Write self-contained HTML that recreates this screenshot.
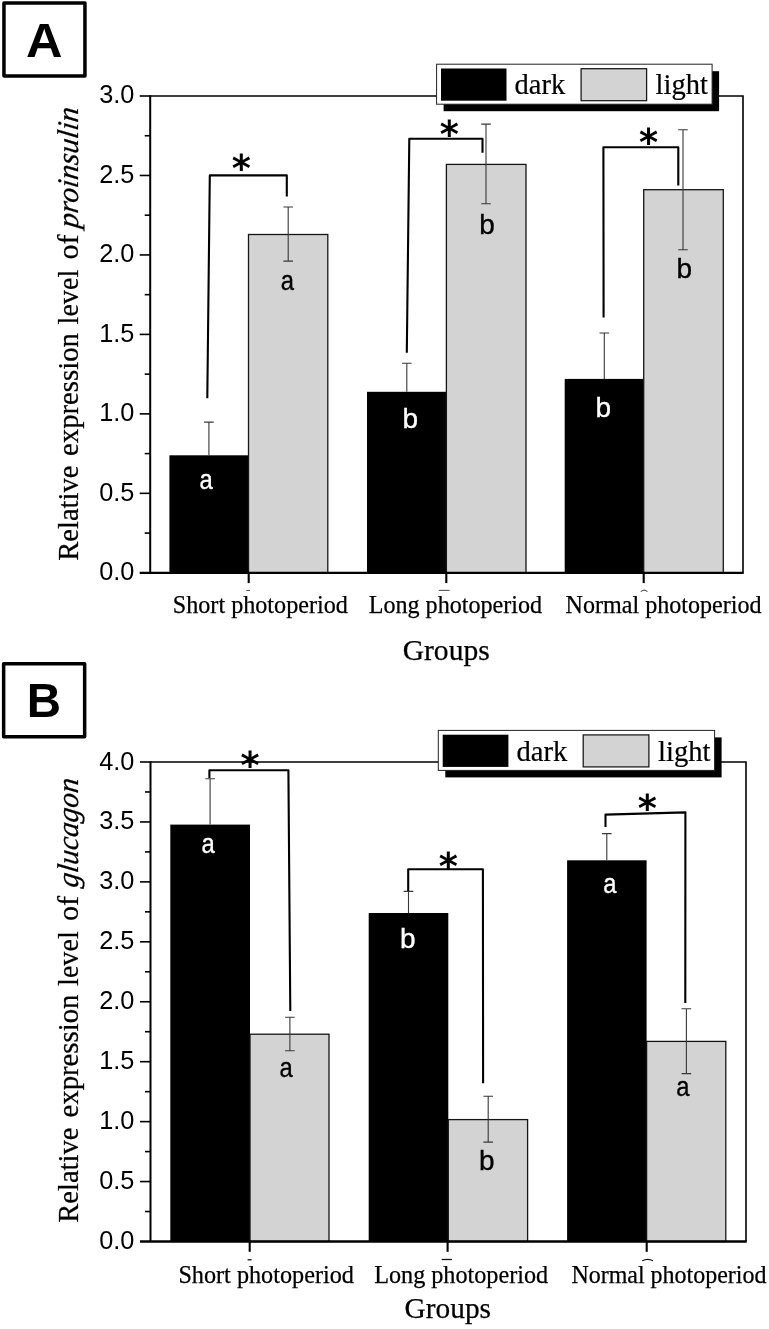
<!DOCTYPE html>
<html lang="en"><head><meta charset="utf-8"><title>Relative expression levels of proinsulin and glucagon</title>
<style>html,body{margin:0;padding:0;background:#fff}svg{display:block}</style></head><body>
<svg width="769" height="1329" viewBox="0 0 769 1329">
<rect width="769" height="1329" fill="#fff"/>
<g id="panelA">
<path d="M150.2 96.0H743.0V572.8" fill="none" stroke="#000" stroke-width="1.6"/>
<rect x="169.4" y="455.3" width="79.1" height="117.5" fill="#000"/>
<rect x="248.5" y="234.5" width="79.3" height="338.3" fill="#d3d3d3" stroke="#151515" stroke-width="1.3"/>
<rect x="367.0" y="391.8" width="79.4" height="181.0" fill="#000"/>
<rect x="446.4" y="164.4" width="79.6" height="408.4" fill="#d3d3d3" stroke="#151515" stroke-width="1.3"/>
<rect x="564.7" y="378.9" width="79.0" height="193.9" fill="#000"/>
<rect x="643.7" y="189.7" width="79.6" height="383.1" fill="#d3d3d3" stroke="#151515" stroke-width="1.3"/>
<path d="M150.2 95.3V572.8" fill="none" stroke="#000" stroke-width="2"/>
<path d="M139.7 572.8H743.7" fill="none" stroke="#000" stroke-width="2.3"/>
<path d="M144.7 533.07H150.2" stroke="#000" stroke-width="1.6"/>
<text x="134.3" y="580.00" text-anchor="end" font-family='"Liberation Sans", sans-serif' font-size="25.3">0.0</text>
<path d="M144.7 453.60H150.2" stroke="#000" stroke-width="1.6"/>
<path d="M139.7 493.33H150.2" stroke="#000" stroke-width="1.6"/>
<text x="134.3" y="500.53" text-anchor="end" font-family='"Liberation Sans", sans-serif' font-size="25.3">0.5</text>
<path d="M144.7 374.13H150.2" stroke="#000" stroke-width="1.6"/>
<path d="M139.7 413.87H150.2" stroke="#000" stroke-width="1.6"/>
<text x="134.3" y="421.07" text-anchor="end" font-family='"Liberation Sans", sans-serif' font-size="25.3">1.0</text>
<path d="M144.7 294.67H150.2" stroke="#000" stroke-width="1.6"/>
<path d="M139.7 334.40H150.2" stroke="#000" stroke-width="1.6"/>
<text x="134.3" y="341.60" text-anchor="end" font-family='"Liberation Sans", sans-serif' font-size="25.3">1.5</text>
<path d="M144.7 215.20H150.2" stroke="#000" stroke-width="1.6"/>
<path d="M139.7 254.93H150.2" stroke="#000" stroke-width="1.6"/>
<text x="134.3" y="262.13" text-anchor="end" font-family='"Liberation Sans", sans-serif' font-size="25.3">2.0</text>
<path d="M144.7 135.73H150.2" stroke="#000" stroke-width="1.6"/>
<path d="M139.7 175.47H150.2" stroke="#000" stroke-width="1.6"/>
<text x="134.3" y="182.67" text-anchor="end" font-family='"Liberation Sans", sans-serif' font-size="25.3">2.5</text>
<path d="M139.7 96.00H150.2" stroke="#000" stroke-width="1.6"/>
<text x="134.3" y="103.20" text-anchor="end" font-family='"Liberation Sans", sans-serif' font-size="25.3">3.0</text>
<path d="M248.7 572.8V583.0999999999999" stroke="#000" stroke-width="2.1"/>
<path d="M246.3 590.5H250.0" stroke="#555" stroke-width="1.1"/>
<path d="M446.3 572.8V583.0999999999999" stroke="#000" stroke-width="2.1"/>
<path d="M438.8 590.4H449.6" stroke="#555" stroke-width="1.1"/>
<path d="M643.7 572.8V583.0999999999999" stroke="#000" stroke-width="2.1"/>
<path d="M640.8 591.6Q644.15 588.6 647.5 591.6" fill="none" stroke="#555" stroke-width="1.1"/>
<path d="M208.9 422.1V455.3M204.1 422.1H213.70000000000002" fill="none" stroke="#383838" stroke-width="1.1"/>
<path d="M288.2 207.0V261.1M283.4 207.0H293.0M283.4 261.1H293.0" fill="none" stroke="#383838" stroke-width="1.1"/>
<path d="M406.8 363.3V391.8M402.0 363.3H411.6" fill="none" stroke="#383838" stroke-width="1.1"/>
<path d="M486.0 124.1V203.7M481.2 124.1H490.8M481.2 203.7H490.8" fill="none" stroke="#383838" stroke-width="1.1"/>
<path d="M604.3 333.0V378.9M599.5 333.0H609.0999999999999" fill="none" stroke="#383838" stroke-width="1.1"/>
<path d="M683.0 129.7V249.8M678.2 129.7H687.8M678.2 249.8H687.8" fill="none" stroke="#383838" stroke-width="1.1"/>
<path d="M207.3 398.3L209.8 175.4H286.8V196.6" fill="none" stroke="#000" stroke-width="2.1" stroke-linejoin="round"/>
<path d="M406.8 352.8L409.3 138.7H482.5V152.7" fill="none" stroke="#000" stroke-width="2.1" stroke-linejoin="round"/>
<path d="M603.6 317.6L603.4 147.3H678.3V185.4" fill="none" stroke="#000" stroke-width="2.1" stroke-linejoin="round"/>
<text x="241.4" y="180.9" text-anchor="middle" font-family='"DejaVu Sans", "Liberation Sans", sans-serif' font-weight="bold" font-size="36.5">*</text>
<text x="449.35" y="146.5" text-anchor="middle" font-family='"DejaVu Sans", "Liberation Sans", sans-serif' font-weight="bold" font-size="36.5">*</text>
<text x="648.5" y="155.4" text-anchor="middle" font-family='"DejaVu Sans", "Liberation Sans", sans-serif' font-weight="bold" font-size="36.5">*</text>
<text transform="translate(206.20 488.5) scale(0.85 1)" text-anchor="middle" font-family='"Liberation Sans", sans-serif' font-size="28" fill="#fff" stroke="#fff" stroke-width="0.35">a</text>
<text transform="translate(287.40 290.1) scale(0.85 1)" text-anchor="middle" font-family='"Liberation Sans", sans-serif' font-size="28" fill="#000" stroke="#000" stroke-width="0.35">a</text>
<text transform="translate(410.35 428.1) scale(1.0 1)" text-anchor="middle" font-family='"Liberation Sans", sans-serif' font-size="28" fill="#fff" stroke="#fff" stroke-width="0.35">b</text>
<text transform="translate(487.15 234.4) scale(1.0 1)" text-anchor="middle" font-family='"Liberation Sans", sans-serif' font-size="28" fill="#000" stroke="#000" stroke-width="0.35">b</text>
<text transform="translate(603.25 416.7) scale(1.0 1)" text-anchor="middle" font-family='"Liberation Sans", sans-serif' font-size="28" fill="#fff" stroke="#fff" stroke-width="0.35">b</text>
<text transform="translate(684.35 277.6) scale(1.0 1)" text-anchor="middle" font-family='"Liberation Sans", sans-serif' font-size="28" fill="#000" stroke="#000" stroke-width="0.35">b</text>
<text x="172.8" y="612.6" font-family='"Liberation Serif", serif' font-size="24.6" stroke="#000" stroke-width="0.25" textLength="175.0" lengthAdjust="spacingAndGlyphs">Short photoperiod</text>
<text x="368.7" y="612.6" font-family='"Liberation Serif", serif' font-size="24.6" stroke="#000" stroke-width="0.25" textLength="173.4" lengthAdjust="spacingAndGlyphs">Long photoperiod</text>
<text x="565.6" y="612.6" font-family='"Liberation Serif", serif' font-size="24.6" stroke="#000" stroke-width="0.25" textLength="196.0" lengthAdjust="spacingAndGlyphs">Normal photoperiod</text>
<text x="402.7" y="659.5" font-family='"Liberation Serif", serif' font-size="30.4" stroke="#000" stroke-width="0.25" textLength="87.0" lengthAdjust="spacingAndGlyphs">Groups</text>
<g transform="translate(78.2 560.8) rotate(-90)" font-family='"Liberation Serif", serif' font-size="30" stroke="#000" stroke-width="0.25">
<text x="0.0" y="0" textLength="95.3" lengthAdjust="spacingAndGlyphs">Relative</text>
<text x="104.8" y="0" textLength="123.0" lengthAdjust="spacingAndGlyphs">expression</text>
<text x="236.4" y="0" textLength="54.6" lengthAdjust="spacingAndGlyphs">level</text>
<text x="301.2" y="0" textLength="25.1" lengthAdjust="spacingAndGlyphs">of</text>
<text transform="translate(332.1 0) skewX(-7)" font-style="italic" textLength="120.5" lengthAdjust="spacingAndGlyphs">proinsulin</text>
</g>
<rect x="443.6" y="71.2" width="275.5" height="40" fill="#000"/>
<rect x="436.6" y="64.2" width="275.5" height="40" fill="#fff" stroke="#222" stroke-width="1"/>
<rect x="441.0" y="68.5" width="65.5" height="32.2" fill="#000"/>
<rect x="581.1" y="68.7" width="65.5" height="32" fill="#d3d3d3" stroke="#151515" stroke-width="1.25"/>
<text x="514.6" y="94.4" font-family='"Liberation Serif", serif' font-size="28.5" stroke="#000" stroke-width="0.2">dark</text>
<text x="655.6" y="94.4" font-family='"Liberation Serif", serif' font-size="28.5" stroke="#000" stroke-width="0.2">light</text>
<rect x="3.95" y="3.05" width="81.0" height="73.0" fill="#fff" stroke="#000" stroke-width="3.5" stroke-linejoin="round"/>
<text transform="translate(25.9 56.8) scale(1.03 1)" font-family='"Liberation Sans", sans-serif' font-weight="bold" font-size="49">A</text>
</g>
<g id="panelB">
<path d="M150.5 762.0H746.0V1241.5" fill="none" stroke="#000" stroke-width="1.6"/>
<rect x="170.3" y="824.6" width="79.7" height="416.9" fill="#000"/>
<rect x="250.0" y="1034.2" width="79.0" height="207.3" fill="#d3d3d3" stroke="#151515" stroke-width="1.3"/>
<rect x="368.7" y="913.0" width="79.6" height="328.5" fill="#000"/>
<rect x="448.3" y="1119.6" width="79.3" height="121.9" fill="#d3d3d3" stroke="#151515" stroke-width="1.3"/>
<rect x="567.1" y="860.3" width="79.5" height="381.2" fill="#000"/>
<rect x="646.6" y="1041.4" width="79.2" height="200.1" fill="#d3d3d3" stroke="#151515" stroke-width="1.3"/>
<path d="M150.5 761.3V1241.5" fill="none" stroke="#000" stroke-width="2"/>
<path d="M140.0 1241.5H746.7" fill="none" stroke="#000" stroke-width="2.3"/>
<path d="M145.0 1211.53H150.5" stroke="#000" stroke-width="1.6"/>
<text x="134.3" y="1249.00" text-anchor="end" font-family='"Liberation Sans", sans-serif' font-size="25.3">0.0</text>
<path d="M145.0 1151.59H150.5" stroke="#000" stroke-width="1.6"/>
<path d="M140.0 1181.56H150.5" stroke="#000" stroke-width="1.6"/>
<text x="134.3" y="1189.06" text-anchor="end" font-family='"Liberation Sans", sans-serif' font-size="25.3">0.5</text>
<path d="M145.0 1091.66H150.5" stroke="#000" stroke-width="1.6"/>
<path d="M140.0 1121.62H150.5" stroke="#000" stroke-width="1.6"/>
<text x="134.3" y="1129.12" text-anchor="end" font-family='"Liberation Sans", sans-serif' font-size="25.3">1.0</text>
<path d="M145.0 1031.72H150.5" stroke="#000" stroke-width="1.6"/>
<path d="M140.0 1061.69H150.5" stroke="#000" stroke-width="1.6"/>
<text x="134.3" y="1069.19" text-anchor="end" font-family='"Liberation Sans", sans-serif' font-size="25.3">1.5</text>
<path d="M145.0 971.78H150.5" stroke="#000" stroke-width="1.6"/>
<path d="M140.0 1001.75H150.5" stroke="#000" stroke-width="1.6"/>
<text x="134.3" y="1009.25" text-anchor="end" font-family='"Liberation Sans", sans-serif' font-size="25.3">2.0</text>
<path d="M145.0 911.84H150.5" stroke="#000" stroke-width="1.6"/>
<path d="M140.0 941.81H150.5" stroke="#000" stroke-width="1.6"/>
<text x="134.3" y="949.31" text-anchor="end" font-family='"Liberation Sans", sans-serif' font-size="25.3">2.5</text>
<path d="M145.0 851.91H150.5" stroke="#000" stroke-width="1.6"/>
<path d="M140.0 881.88H150.5" stroke="#000" stroke-width="1.6"/>
<text x="134.3" y="889.38" text-anchor="end" font-family='"Liberation Sans", sans-serif' font-size="25.3">3.0</text>
<path d="M145.0 791.97H150.5" stroke="#000" stroke-width="1.6"/>
<path d="M140.0 821.94H150.5" stroke="#000" stroke-width="1.6"/>
<text x="134.3" y="829.44" text-anchor="end" font-family='"Liberation Sans", sans-serif' font-size="25.3">3.5</text>
<path d="M140.0 762.00H150.5" stroke="#000" stroke-width="1.6"/>
<text x="134.3" y="769.50" text-anchor="end" font-family='"Liberation Sans", sans-serif' font-size="25.3">4.0</text>
<path d="M249.7 1241.5V1251.8" stroke="#000" stroke-width="2.1"/>
<path d="M247.6 1259.8H251.6" stroke="#111" stroke-width="1.3"/>
<path d="M447.6 1241.5V1251.8" stroke="#000" stroke-width="2.1"/>
<path d="M441.7 1259.5H451.9" stroke="#111" stroke-width="1.3"/>
<path d="M646.7 1241.5V1251.8" stroke="#000" stroke-width="2.1"/>
<path d="M642.3 1260.8Q647.65 1257.8 653.0 1260.8" fill="none" stroke="#111" stroke-width="1.3"/>
<path d="M210.1 778.7V824.6M205.29999999999998 778.7H214.9" fill="none" stroke="#383838" stroke-width="1.1"/>
<path d="M289.9 1017.2V1050.7M285.09999999999997 1017.2H294.7M285.09999999999997 1050.7H294.7" fill="none" stroke="#383838" stroke-width="1.1"/>
<path d="M408.5 891.4V913.0M403.7 891.4H413.3" fill="none" stroke="#383838" stroke-width="1.1"/>
<path d="M488.2 1096.2V1142.1M483.4 1096.2H493.0M483.4 1142.1H493.0" fill="none" stroke="#383838" stroke-width="1.1"/>
<path d="M606.8 833.6V860.3M602.0 833.6H611.5999999999999" fill="none" stroke="#383838" stroke-width="1.1"/>
<path d="M686.4 1008.8V1073.6M681.6 1008.8H691.1999999999999M681.6 1073.6H691.1999999999999" fill="none" stroke="#383838" stroke-width="1.1"/>
<path d="M209.4 778.0V770.3H288.4L290.3 1011" fill="none" stroke="#000" stroke-width="2.1" stroke-linejoin="round"/>
<path d="M408.2 891V869.2H482.9L483.1 1083.3" fill="none" stroke="#000" stroke-width="2.1" stroke-linejoin="round"/>
<path d="M605.5 827.1V814.6L685.4 812.4L685.3 1002.9" fill="none" stroke="#000" stroke-width="2.1" stroke-linejoin="round"/>
<text x="250.0" y="777.8" text-anchor="middle" font-family='"DejaVu Sans", "Liberation Sans", sans-serif' font-weight="bold" font-size="36.5">*</text>
<text x="448.3" y="879.4" text-anchor="middle" font-family='"DejaVu Sans", "Liberation Sans", sans-serif' font-weight="bold" font-size="36.5">*</text>
<text x="647.4" y="821.1" text-anchor="middle" font-family='"DejaVu Sans", "Liberation Sans", sans-serif' font-weight="bold" font-size="36.5">*</text>
<text transform="translate(208.00 852.7) scale(0.85 1)" text-anchor="middle" font-family='"Liberation Sans", sans-serif' font-size="28" fill="#fff" stroke="#fff" stroke-width="0.35">a</text>
<text transform="translate(286.20 1076.8) scale(0.85 1)" text-anchor="middle" font-family='"Liberation Sans", sans-serif' font-size="28" fill="#000" stroke="#000" stroke-width="0.35">a</text>
<text transform="translate(407.85 948.0) scale(1.0 1)" text-anchor="middle" font-family='"Liberation Sans", sans-serif' font-size="28" fill="#fff" stroke="#fff" stroke-width="0.35">b</text>
<text transform="translate(486.85 1169.6) scale(1.0 1)" text-anchor="middle" font-family='"Liberation Sans", sans-serif' font-size="28" fill="#000" stroke="#000" stroke-width="0.35">b</text>
<text transform="translate(609.90 893.1) scale(0.85 1)" text-anchor="middle" font-family='"Liberation Sans", sans-serif' font-size="28" fill="#fff" stroke="#fff" stroke-width="0.35">a</text>
<text transform="translate(682.90 1096.4) scale(0.85 1)" text-anchor="middle" font-family='"Liberation Sans", sans-serif' font-size="28" fill="#000" stroke="#000" stroke-width="0.35">a</text>
<text x="178.4" y="1283.3" font-family='"Liberation Serif", serif' font-size="24.6" stroke="#000" stroke-width="0.25" textLength="175.5" lengthAdjust="spacingAndGlyphs">Short photoperiod</text>
<text x="374.2" y="1283.3" font-family='"Liberation Serif", serif' font-size="24.6" stroke="#000" stroke-width="0.25" textLength="173.9" lengthAdjust="spacingAndGlyphs">Long photoperiod</text>
<text x="571.4" y="1283.3" font-family='"Liberation Serif", serif' font-size="24.6" stroke="#000" stroke-width="0.25" textLength="195.1" lengthAdjust="spacingAndGlyphs">Normal photoperiod</text>
<text x="404.6" y="1318.2" font-family='"Liberation Serif", serif' font-size="30.4" stroke="#000" stroke-width="0.25" textLength="86.4" lengthAdjust="spacingAndGlyphs">Groups</text>
<g transform="translate(78.2 1222.8) rotate(-90)" font-family='"Liberation Serif", serif' font-size="30" stroke="#000" stroke-width="0.25">
<text x="0.0" y="0" textLength="95.3" lengthAdjust="spacingAndGlyphs">Relative</text>
<text x="105.3" y="0" textLength="123.0" lengthAdjust="spacingAndGlyphs">expression</text>
<text x="236.9" y="0" textLength="54.6" lengthAdjust="spacingAndGlyphs">level</text>
<text x="301.7" y="0" textLength="25.1" lengthAdjust="spacingAndGlyphs">of</text>
<text transform="translate(334.6 0) skewX(-7)" font-style="italic" textLength="109.0" lengthAdjust="spacingAndGlyphs">glucagon</text>
</g>
<rect x="445.3" y="737.4" width="276.3" height="40" fill="#000"/>
<rect x="438.3" y="730.4" width="276.3" height="40" fill="#fff" stroke="#222" stroke-width="1"/>
<rect x="442.7" y="734.7" width="65.7" height="32.2" fill="#000"/>
<rect x="583.2" y="734.9" width="65.7" height="32" fill="#d3d3d3" stroke="#151515" stroke-width="1.25"/>
<text x="516.5" y="760.6" font-family='"Liberation Serif", serif' font-size="28.6" stroke="#000" stroke-width="0.2">dark</text>
<text x="658.0" y="760.6" font-family='"Liberation Serif", serif' font-size="28.6" stroke="#000" stroke-width="0.2">light</text>
<rect x="3.65" y="663.65" width="81.0" height="73.0" fill="#fff" stroke="#000" stroke-width="3.5" stroke-linejoin="round"/>
<text transform="translate(26.7 717.4) scale(0.97 1)" font-family='"Liberation Sans", sans-serif' font-weight="bold" font-size="49">B</text>
</g>
</svg></body></html>
